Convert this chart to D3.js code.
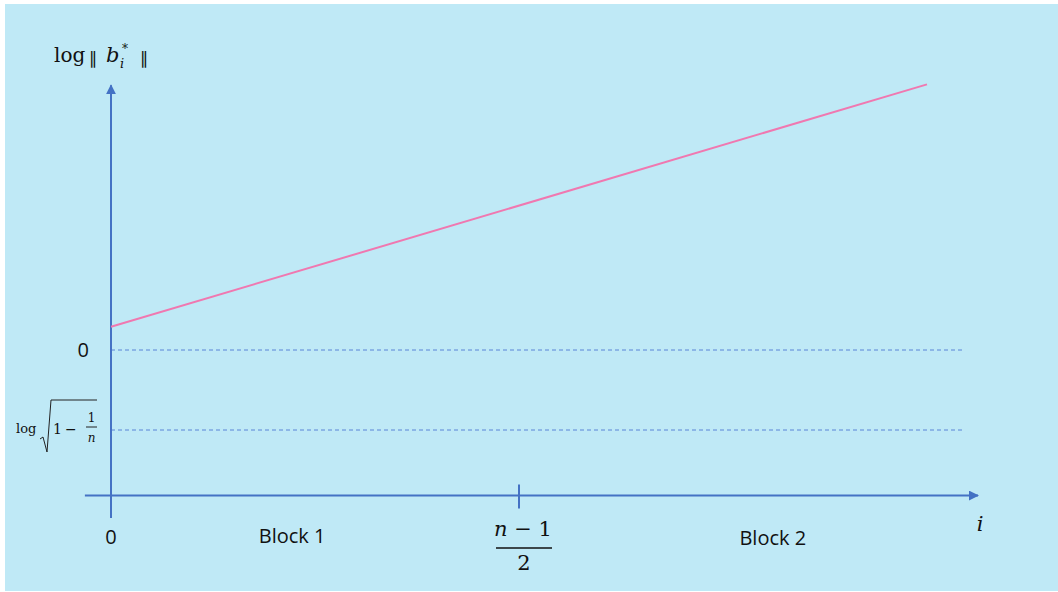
<!DOCTYPE html>
<html>
<head>
<meta charset="utf-8">
<script src="https://cdn.jsdelivr.net/npm/d3@7"></script>
<style>
  html, body { margin: 0; padding: 0; background: #ffffff; }
  svg { display: block; }
</style>
</head>
<body>
<svg id="chart" width="1058" height="592"></svg>
<script>
// Index along the basis (normalised: 0 = first vector, 1 = last)
const indexPoints = [0, 1];
// log of Gram-Schmidt norms along the basis (straight line, growing)
const logNormValues = [0.29, 3.32];
// Reference levels on the vertical axis: 0 and log sqrt(1 - 1/n)
const refLevels = [0, -1];
// Horizontal tick positions: origin and the block boundary (n-1)/2
const xTickValues = [0, 0.5];
// Block labels placed inside each half
const blockNames = ["Block 1", "Block 2"];
const blockCenters = [0.222, 0.811];

const svg = d3.select("#chart");
const W = 1058, H = 592;

const x = d3.scaleLinear().domain([0, 1]).range([111, 927]);
const y = d3.scaleLinear().domain([0, -1]).range([350, 430]);

const axisColor = "#4472c4";
const serif = "'DejaVu Serif', 'Liberation Serif', serif";
const sans = "'Open Sans', 'Lato', sans-serif";

// Background panel
svg.append("rect").attr("x", 5).attr("y", 4).attr("width", W - 5).attr("height", 587)
  .attr("fill", "#bfe9f6");

// Arrow marker
const defs = svg.append("defs");
defs.append("marker")
  .attr("id", "arrow")
  .attr("viewBox", "0 0 10 10")
  .attr("refX", 9).attr("refY", 5)
  .attr("markerWidth", 5).attr("markerHeight", 5)
  .attr("markerUnits", "strokeWidth")
  .attr("orient", "auto")
  .append("path").attr("d", "M0,0 L10,5 L0,10 Z").attr("fill", axisColor);

// Dashed reference levels
svg.selectAll("line.ref").data(refLevels).join("line")
  .attr("class", "ref")
  .attr("x1", x(0)).attr("x2", x(1.044))
  .attr("y1", d => y(d)).attr("y2", d => y(d))
  .attr("stroke", "#5b84d6").attr("stroke-width", 1)
  .attr("stroke-dasharray", "4,3");

// Horizontal axis (i)
const xAxisLevel = -1.82;
svg.append("line")
  .attr("x1", x(-0.032)).attr("x2", x(1.0625))
  .attr("y1", y(xAxisLevel)).attr("y2", y(xAxisLevel))
  .attr("stroke", axisColor).attr("stroke-width", 2)
  .attr("marker-end", "url(#arrow)");

// Vertical axis
svg.append("line")
  .attr("x1", x(0)).attr("x2", x(0))
  .attr("y1", y(-2.1)).attr("y2", y(3.31))
  .attr("stroke", axisColor).attr("stroke-width", 2)
  .attr("marker-end", "url(#arrow)");

// Tick at the block boundary
svg.selectAll("line.tick").data(xTickValues.filter(d => d > 0)).join("line")
  .attr("class", "tick")
  .attr("x1", d => x(d)).attr("x2", d => x(d))
  .attr("y1", y(xAxisLevel) - 11).attr("y2", y(xAxisLevel) + 13)
  .attr("stroke", axisColor).attr("stroke-width", 2);

// The log-norm profile
const line = d3.line().x(d => x(d[0])).y(d => y(d[1]));
svg.append("path")
  .datum(indexPoints.map((d, k) => [d, logNormValues[k]]))
  .attr("d", line)
  .attr("fill", "none")
  .attr("stroke", "#f078b0")
  .attr("stroke-width", 2);

// Axis title: log || b_i^* ||
const gT = svg.append("g").attr("font-family", serif).attr("fill", "#111");
gT.append("text").attr("x", 54).attr("y", 62).attr("font-size", 20).text("log");
gT.append("text").attr("x", 89).attr("y", 64).attr("font-size", 17)
  .attr("font-family", "'DejaVu Sans', sans-serif").text("∥");
gT.append("text").attr("x", 106).attr("y", 62).attr("font-size", 21)
  .attr("font-style", "italic").text("b");
gT.append("text").attr("x", 120).attr("y", 68).attr("font-size", 13)
  .attr("font-style", "italic").text("i");
gT.append("text").attr("x", 122).attr("y", 53).attr("font-size", 12).text("*");
gT.append("text").attr("x", 140).attr("y", 64).attr("font-size", 17)
  .attr("font-family", "'DejaVu Sans', sans-serif").text("∥");

// "0" label at the zero level
svg.append("text").attr("x", 89).attr("y", y(0) + 7)
  .attr("text-anchor", "end")
  .attr("font-family", sans).attr("font-size", 20).attr("fill", "#111")
  .text("0");

// log sqrt(1 - 1/n) label
const gL = svg.append("g").attr("font-family", serif).attr("fill", "#111");
const yl = y(-1);
gL.append("text").attr("x", 16).attr("y", yl + 3).attr("font-size", 13).text("log");
gL.append("path")
  .attr("d", `M40,${yl + 9} L43,${yl + 7} L47,${yl + 22} L51,${yl - 30} L97,${yl - 30}`)
  .attr("fill", "none").attr("stroke", "#222").attr("stroke-width", 1);
gL.append("text").attr("x", 53).attr("y", yl + 4).attr("font-size", 14).text("1");
gL.append("text").attr("x", 65).attr("y", yl + 4).attr("font-size", 14).text("−");
gL.append("text").attr("x", 91.5).attr("y", yl - 8).attr("text-anchor", "middle")
  .attr("font-size", 12).text("1");
gL.append("line").attr("x1", 86).attr("x2", 97).attr("y1", yl - 3).attr("y2", yl - 3)
  .attr("stroke", "#222").attr("stroke-width", 1);
gL.append("text").attr("x", 91.5).attr("y", yl + 12).attr("text-anchor", "middle")
  .attr("font-size", 12).attr("font-style", "italic").text("n");

// Origin label on the i axis
svg.append("text").attr("x", x(0)).attr("y", 544)
  .attr("text-anchor", "middle")
  .attr("font-family", sans).attr("font-size", 20).attr("fill", "#111")
  .text("0");

// Block labels
svg.selectAll("text.block").data(blockNames).join("text")
  .attr("class", "block")
  .attr("x", (d, k) => x(blockCenters[k]))
  .attr("y", (d, k) => k === 0 ? 543 : 545)
  .attr("text-anchor", "middle")
  .attr("font-family", sans).attr("font-size", 20).attr("fill", "#111")
  .text(d => d);

// (n-1)/2 fraction under the boundary tick
const xm = x(xTickValues[1]);
const gF = svg.append("g").attr("font-family", serif).attr("fill", "#111")
  .attr("font-size", 21).attr("text-anchor", "middle");
const num = gF.append("text").attr("x", xm + 4).attr("y", 536);
num.append("tspan").text("n").attr("font-style", "italic");
num.append("tspan").text(" − 1");
gF.append("line").attr("x1", xm - 23).attr("x2", xm + 33).attr("y1", 548).attr("y2", 548)
  .attr("stroke", "#111").attr("stroke-width", 1.5);
gF.append("text").attr("x", xm + 5).attr("y", 570).text("2");

// i label at the end of the horizontal axis
svg.append("text").attr("x", 980).attr("y", 531)
  .attr("text-anchor", "middle")
  .attr("font-family", serif).attr("font-size", 21).attr("font-style", "italic")
  .attr("fill", "#111").text("i");
</script>
</body>
</html>
